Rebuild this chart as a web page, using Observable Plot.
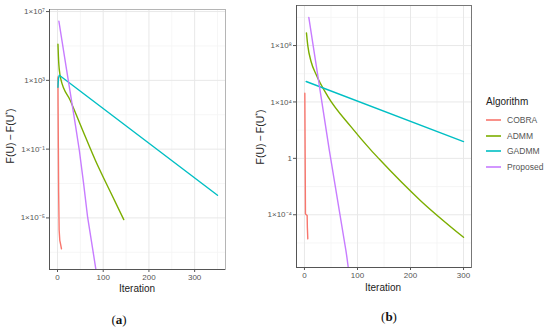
<!DOCTYPE html>
<html><head><meta charset="utf-8">
<script src="https://cdn.jsdelivr.net/npm/d3@7"></script>
<script src="https://cdn.jsdelivr.net/npm/@observablehq/plot@0.6"></script>
<style>
body{margin:0;background:#fff;}
#root{position:relative;width:550px;height:328px;overflow:hidden;font-family:"Liberation Sans",Arial,sans-serif;}
.ytitle{position:absolute;font-size:10.5px;color:#222;white-space:nowrap;transform:translate(-50%,-50%) rotate(-90deg);}
.xtitle{position:absolute;font-size:10px;color:#222;white-space:nowrap;transform:translate(-50%,-50%);}
.cap{position:absolute;font-family:"Liberation Serif","DejaVu Serif",serif;font-size:13px;color:#111;transform:translate(-50%,-50%);}
.leg{position:absolute;left:486px;top:96px;font-size:8.5px;color:#555;}
.leg .title{font-size:10px;color:#222;margin-bottom:5px;}
.leg .item{display:flex;align-items:center;height:15.7px;}
.leg svg{margin-right:6px;}
</style></head><body><div id="root"></div>
<script>
const algorithms = ["COBRA", "ADMM", "GADMM", "Proposed"];
const colors = ["#F8766D", "#7CAE00", "#00BFC4", "#C77CFF"];

// Panel (a): iteration and log10(F(U) - F(U*))
const aCobraIter = [1, 1.3, 1.9, 2.5, 3.6, 5, 6.5, 8.7];
const aCobraLog  = [3.2, 1.5, -1, -3.5, -5.7, -6.3, -6.5, -6.8];
const aAdmmIter  = [1, 2, 3, 5, 7, 28, 55, 83, 115, 145];
const aAdmmLog   = [5.1, 4.4, 3.9, 3.4, 3.1, 1.83, 0.1, -1.66, -3.45, -5.1];
const aGadmmIter = [1, 2, 4, 350];
const aGadmmLog  = [2.6, 3.1, 3.3, -3.68];
const aPropIter  = [3, 20, 40, 47.8, 57.2, 65.9, 77.5, 84, 86];
const aPropLog   = [6.44, 3.6, 0.26, -1.08, -3.02, -4.96, -6.9, -8.0, -8.4];

// Panel (b)
const bCobraIter = [0.7, 1.3, 1.9, 5.1, 5.5, 6.3];
const bCobraLog  = [4.62, 0.3, -3.94, -4.06, -4.9, -5.71];
const bAdmmIter  = [3.75, 6.3, 12.6, 22, 44, 87.6, 125, 141, 219, 300];
const bAdmmLog   = [8.9, 8.0, 6.85, 5.95, 4.4, 2.25, 0.6, -0.05, -3.0, -5.6];
const bGadmmIter = [3.2, 300];
const bGadmmLog  = [5.45, 1.19];
const bPropIter  = [8.2, 47, 78.2, 80, 82.6, 84];
const bPropLog   = [10.0, 0.55, -6.54, -7.0, -7.74, -8.2];

// Axes
const aXTicks = [0, 100, 200, 300];
const aXMinor = [50, 150, 250, 350];
const aYTicks = [1e7, 1e3, 1e-1, 1e-5];
const aYLabels = ["1×10⁷", "1×10³", "1×10⁻¹", "1×10⁻⁵"];
const aYMinor = [1e5, 1e1, 1e-3, 1e-7];
const aXDomain = [-17.5, 367.5];
const aYDomain = [1e-8, Math.pow(10, 7.12)];

const bXTicks = [0, 100, 200, 300];
const bXMinor = [50, 150, 250];
const bYTicks = [1e8, 1e4, 1, 1e-4];
const bYLabels = ["1×10⁸", "1×10⁴", "1", "1×10⁻⁴"];
const bYMinor = [1e10, 1e6, 1e2, 1e-2, 1e-6];
const bXDomain = [-15, 315];
const bYDomain = [Math.pow(10, -7.74), Math.pow(10, 10.84)];

function rows(series) {
  const out = [];
  series.forEach(([alg, it, lg]) => it.forEach((x, i) => out.push({alg, iter: x, value: Math.pow(10, lg[i])})));
  return out;
}
const dataA = rows([["COBRA", aCobraIter, aCobraLog], ["ADMM", aAdmmIter, aAdmmLog], ["GADMM", aGadmmIter, aGadmmLog], ["Proposed", aPropIter, aPropLog]]);
const dataB = rows([["COBRA", bCobraIter, bCobraLog], ["ADMM", bAdmmIter, bAdmmLog], ["GADMM", bGadmmIter, bGadmmLog], ["Proposed", bPropIter, bPropLog]]);

function panel(o) {
  const lineOpts = {x: "iter", y: "value", stroke: "alg", z: "alg", strokeWidth: 1.4, clip: true};
  return Plot.plot({
    width: o.width, height: o.height,
    marginLeft: o.ml, marginRight: o.mr, marginTop: o.mt, marginBottom: o.mb,
    style: {fontFamily: "Liberation Sans, Arial, sans-serif", fontSize: "8px", color: "#555", background: "transparent"},
    x: {domain: o.xDomain, ticks: o.xTicks, tickSize: 3, tickPadding: 2, label: null},
    y: {type: "log", domain: o.yDomain, ticks: o.yTicks, tickFormat: d => o.yLabels[o.yTicks.indexOf(d)], tickSize: 3, tickPadding: 1.5, label: null},
    color: {domain: algorithms, range: colors},
    marks: [
      Plot.ruleY(o.yMinor, {stroke: "#f4f4f4", strokeWidth: 0.8}),
      Plot.ruleX(o.xMinor, {stroke: "#f4f4f4", strokeWidth: 0.8}),
      Plot.ruleY(o.yTicks, {stroke: "#e8e8e8", strokeWidth: 1}),
      Plot.ruleX(o.xTicks, {stroke: "#e8e8e8", strokeWidth: 1}),
      Plot.line(o.data.filter(d => d.alg === "COBRA"), lineOpts),
      Plot.line(o.data.filter(d => d.alg === "ADMM"), {...lineOpts, curve: "monotone-x"}),
      Plot.line(o.data.filter(d => d.alg === "GADMM"), lineOpts),
      Plot.line(o.data.filter(d => d.alg === "Proposed"), lineOpts),
      Plot.frame({stroke: o.frameColor}),
      Plot.ruleX([o.xDomain[0]], {stroke: "#555"}),
      Plot.ruleY([o.yDomain[0]], {stroke: "#555"})
    ]
  });
}

const root = document.getElementById("root");
function place(el, left, top) {
  el.style.position = "absolute"; el.style.left = left + "px"; el.style.top = top + "px";
  root.appendChild(el);
}
place(panel({data: dataA, width: 230, height: 290, ml: 49, mr: 5, mt: 9, mb: 21,
  xDomain: aXDomain, yDomain: aYDomain, xTicks: aXTicks, xMinor: aXMinor,
  yTicks: aYTicks, yMinor: aYMinor, yLabels: aYLabels, frameColor: "#b5b5b5"}), 0, 0);
place(panel({data: dataB, width: 225, height: 290, ml: 46, mr: 4, mt: 5, mb: 23,
  xDomain: bXDomain, yDomain: bYDomain, xTicks: bXTicks, xMinor: bXMinor,
  yTicks: bYTicks, yMinor: bYMinor, yLabels: bYLabels, frameColor: "#777"}), 250, 0);

function text(cls, html, x, y) {
  const d = document.createElement("div"); d.className = cls; d.innerHTML = html;
  d.style.left = x + "px"; d.style.top = y + "px"; root.appendChild(d);
}
const yTitle = "F(U)&thinsp;−&thinsp;F(U<sup style='font-size:7px;vertical-align:4px'>*</sup>)";
text("ytitle", yTitle, 10, 136);
text("ytitle", yTitle, 260, 137);
text("xtitle", "Iteration", 137, 288);
text("xtitle", "Iteration", 383, 287);
text("cap", "(<b>a</b>)", 119, 320);
text("cap", "(<b>b</b>)", 389, 317);

const leg = document.createElement("div"); leg.className = "leg";
leg.innerHTML = "<div class='title'>Algorithm</div>" + algorithms.map((a, i) =>
  `<div class='item'><svg width='15' height='8'><line x1='0' x2='15' y1='4' y2='4' stroke='${colors[i]}' stroke-width='1.6'/></svg>${a}</div>`).join("");
root.appendChild(leg);
</script></body></html>
